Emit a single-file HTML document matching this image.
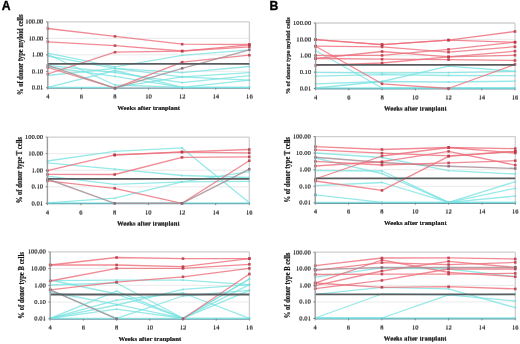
<!DOCTYPE html>
<html><head><meta charset="utf-8"><style>
html,body{margin:0;padding:0;background:#fff;width:520px;height:344px;overflow:hidden}
svg{display:block}
.t{font-family:"Liberation Serif",serif;font-size:6.6px;fill:#3a3a3a}
.tb{font-family:"Liberation Serif",serif;font-weight:bold;font-size:6.6px;fill:#111;stroke:#111;stroke-width:0.1px}
.tw{font-family:"Liberation Serif",serif;font-weight:bold;font-size:6.7px;fill:#333}
.tr{font-family:"Liberation Serif",serif;font-weight:bold;fill:#1a1a1a;stroke:#1a1a1a;stroke-width:0.18px}
.L{font-family:"Liberation Sans",sans-serif;font-weight:bold;font-size:12.2px;fill:#000;stroke:#000;stroke-width:0.35px}
</style></head><body>
<svg width="520" height="344" viewBox="0 0 520 344">
<defs><filter id="bl" x="0" y="0" width="100%" height="100%"><feGaussianBlur stdDeviation="0.35"/></filter><filter id="bt" x="0" y="0" width="100%" height="100%"><feGaussianBlur stdDeviation="0.4"/></filter></defs>
<rect width="520" height="344" fill="#fff"/>
<g filter="url(#bl)">
<text x="1.7" y="9.8" class="L">A</text>
<text x="269.4" y="9.9" class="L">B</text>
<line x1="47.8" y1="38.38" x2="249.4" y2="38.38" stroke="#e4e4e4" stroke-width="0.8"/>
<line x1="47.8" y1="54.85" x2="249.4" y2="54.85" stroke="#e4e4e4" stroke-width="0.8"/>
<line x1="47.8" y1="71.33" x2="249.4" y2="71.33" stroke="#e4e4e4" stroke-width="0.8"/>
<line x1="47.8" y1="21.9" x2="249.4" y2="21.9" stroke="#cfcfcf" stroke-width="1.3"/>
<line x1="249.4" y1="21.9" x2="249.4" y2="87.8" stroke="#cfcfcf" stroke-width="1.3"/>
<line x1="47.8" y1="88.1" x2="249.4" y2="88.1" stroke="#6f9aa6" stroke-width="1.4"/>
<polyline points="47.8,53.2 115.0,66.8 182.2,55.3 249.4,49.8" fill="none" stroke="#74e2e0" stroke-width="1.3" stroke-opacity="0.75" stroke-linejoin="round"/>
<rect x="46.90" y="52.30" width="1.8" height="1.8" fill="#70d8d8" opacity="0.6"/>
<rect x="114.10" y="65.90" width="1.8" height="1.8" fill="#70d8d8" opacity="0.6"/>
<rect x="181.30" y="54.40" width="1.8" height="1.8" fill="#70d8d8" opacity="0.6"/>
<rect x="248.50" y="48.90" width="1.8" height="1.8" fill="#70d8d8" opacity="0.6"/>
<polyline points="47.8,54.5 115.0,85.0 182.2,87.3 249.4,87.3" fill="none" stroke="#74e2e0" stroke-width="1.3" stroke-opacity="0.75" stroke-linejoin="round"/>
<rect x="46.90" y="53.60" width="1.8" height="1.8" fill="#70d8d8" opacity="0.6"/>
<rect x="114.10" y="84.10" width="1.8" height="1.8" fill="#70d8d8" opacity="0.6"/>
<rect x="181.30" y="86.40" width="1.8" height="1.8" fill="#70d8d8" opacity="0.6"/>
<rect x="248.50" y="86.40" width="1.8" height="1.8" fill="#70d8d8" opacity="0.6"/>
<polyline points="47.8,56.0 115.0,68.3 182.2,76.8 249.4,72.6" fill="none" stroke="#74e2e0" stroke-width="1.3" stroke-opacity="0.75" stroke-linejoin="round"/>
<rect x="46.90" y="55.10" width="1.8" height="1.8" fill="#70d8d8" opacity="0.6"/>
<rect x="114.10" y="67.40" width="1.8" height="1.8" fill="#70d8d8" opacity="0.6"/>
<rect x="181.30" y="75.90" width="1.8" height="1.8" fill="#70d8d8" opacity="0.6"/>
<rect x="248.50" y="71.70" width="1.8" height="1.8" fill="#70d8d8" opacity="0.6"/>
<polyline points="47.8,65.4 115.0,72.5 182.2,82.7 249.4,75.6" fill="none" stroke="#74e2e0" stroke-width="1.3" stroke-opacity="0.75" stroke-linejoin="round"/>
<rect x="46.90" y="64.50" width="1.8" height="1.8" fill="#70d8d8" opacity="0.6"/>
<rect x="114.10" y="71.60" width="1.8" height="1.8" fill="#70d8d8" opacity="0.6"/>
<rect x="181.30" y="81.80" width="1.8" height="1.8" fill="#70d8d8" opacity="0.6"/>
<rect x="248.50" y="74.70" width="1.8" height="1.8" fill="#70d8d8" opacity="0.6"/>
<polyline points="47.8,67.0 115.0,76.4 182.2,87.3 249.4,80.2" fill="none" stroke="#74e2e0" stroke-width="1.3" stroke-opacity="0.75" stroke-linejoin="round"/>
<rect x="46.90" y="66.10" width="1.8" height="1.8" fill="#70d8d8" opacity="0.6"/>
<rect x="114.10" y="75.50" width="1.8" height="1.8" fill="#70d8d8" opacity="0.6"/>
<rect x="181.30" y="86.40" width="1.8" height="1.8" fill="#70d8d8" opacity="0.6"/>
<rect x="248.50" y="79.30" width="1.8" height="1.8" fill="#70d8d8" opacity="0.6"/>
<polyline points="47.8,75.5 115.0,68.3 182.2,72.6 249.4,66.5" fill="none" stroke="#74e2e0" stroke-width="1.3" stroke-opacity="0.75" stroke-linejoin="round"/>
<rect x="46.90" y="74.60" width="1.8" height="1.8" fill="#70d8d8" opacity="0.6"/>
<rect x="114.10" y="67.40" width="1.8" height="1.8" fill="#70d8d8" opacity="0.6"/>
<rect x="181.30" y="71.70" width="1.8" height="1.8" fill="#70d8d8" opacity="0.6"/>
<rect x="248.50" y="65.60" width="1.8" height="1.8" fill="#70d8d8" opacity="0.6"/>
<polyline points="47.8,87.3 115.0,70.5 182.2,87.3 249.4,87.3" fill="none" stroke="#74e2e0" stroke-width="1.3" stroke-opacity="0.75" stroke-linejoin="round"/>
<rect x="46.90" y="86.40" width="1.8" height="1.8" fill="#70d8d8" opacity="0.6"/>
<rect x="114.10" y="69.60" width="1.8" height="1.8" fill="#70d8d8" opacity="0.6"/>
<rect x="181.30" y="86.40" width="1.8" height="1.8" fill="#70d8d8" opacity="0.6"/>
<rect x="248.50" y="86.40" width="1.8" height="1.8" fill="#70d8d8" opacity="0.6"/>
<polyline points="47.8,87.3 115.0,87.3 182.2,76.8 249.4,80.2" fill="none" stroke="#74e2e0" stroke-width="1.3" stroke-opacity="0.75" stroke-linejoin="round"/>
<rect x="46.90" y="86.40" width="1.8" height="1.8" fill="#70d8d8" opacity="0.6"/>
<rect x="114.10" y="86.40" width="1.8" height="1.8" fill="#70d8d8" opacity="0.6"/>
<rect x="181.30" y="75.90" width="1.8" height="1.8" fill="#70d8d8" opacity="0.6"/>
<rect x="248.50" y="79.30" width="1.8" height="1.8" fill="#70d8d8" opacity="0.6"/>
<polyline points="47.8,28.5 115.0,36.3 182.2,44.2 249.4,44.5" fill="none" stroke="#ec6e7a" stroke-width="1.3" stroke-opacity="0.8" stroke-linejoin="round"/>
<rect x="46.50" y="27.20" width="2.6" height="2.6" fill="#b8303e" opacity="0.8"/>
<rect x="113.70" y="35.00" width="2.6" height="2.6" fill="#b8303e" opacity="0.8"/>
<rect x="180.90" y="42.90" width="2.6" height="2.6" fill="#b8303e" opacity="0.8"/>
<rect x="248.10" y="43.20" width="2.6" height="2.6" fill="#b8303e" opacity="0.8"/>
<polyline points="47.8,41.8 115.0,45.6 182.2,51.0 249.4,46.8" fill="none" stroke="#ec6e7a" stroke-width="1.3" stroke-opacity="0.8" stroke-linejoin="round"/>
<rect x="46.50" y="40.50" width="2.6" height="2.6" fill="#b8303e" opacity="0.8"/>
<rect x="113.70" y="44.30" width="2.6" height="2.6" fill="#b8303e" opacity="0.8"/>
<rect x="180.90" y="49.70" width="2.6" height="2.6" fill="#b8303e" opacity="0.8"/>
<rect x="248.10" y="45.50" width="2.6" height="2.6" fill="#b8303e" opacity="0.8"/>
<polyline points="47.8,74.0 115.0,52.2 182.2,51.2 249.4,44.8" fill="none" stroke="#ec6e7a" stroke-width="1.3" stroke-opacity="0.8" stroke-linejoin="round"/>
<rect x="46.50" y="72.70" width="2.6" height="2.6" fill="#b8303e" opacity="0.8"/>
<rect x="113.70" y="50.90" width="2.6" height="2.6" fill="#b8303e" opacity="0.8"/>
<rect x="180.90" y="49.90" width="2.6" height="2.6" fill="#b8303e" opacity="0.8"/>
<rect x="248.10" y="43.50" width="2.6" height="2.6" fill="#b8303e" opacity="0.8"/>
<polyline points="47.8,67.5 115.0,88.2 182.2,62.2 249.4,55.2" fill="none" stroke="#ec6e7a" stroke-width="1.3" stroke-opacity="0.8" stroke-linejoin="round"/>
<rect x="46.50" y="66.20" width="2.6" height="2.6" fill="#b8303e" opacity="0.8"/>
<rect x="113.70" y="86.90" width="2.6" height="2.6" fill="#b8303e" opacity="0.8"/>
<rect x="180.90" y="60.90" width="2.6" height="2.6" fill="#b8303e" opacity="0.8"/>
<rect x="248.10" y="53.90" width="2.6" height="2.6" fill="#b8303e" opacity="0.8"/>
<polyline points="47.8,65.4 115.0,88.2 182.2,68.3 249.4,49.8" fill="none" stroke="#a89098" stroke-width="1.4" stroke-opacity="0.85" stroke-linejoin="round"/>
<rect x="46.50" y="64.10" width="2.6" height="2.6" fill="#806070" opacity="0.8"/>
<rect x="113.70" y="86.90" width="2.6" height="2.6" fill="#806070" opacity="0.8"/>
<rect x="180.90" y="67.00" width="2.6" height="2.6" fill="#806070" opacity="0.8"/>
<rect x="248.10" y="48.50" width="2.6" height="2.6" fill="#806070" opacity="0.8"/>
<line x1="47.8" y1="63.8" x2="249.4" y2="63.8" stroke="#585c5e" stroke-width="1.8"/>
<line x1="47.8" y1="21.9" x2="47.8" y2="87.8" stroke="#999d9d" stroke-width="1.4"/>
<line x1="46.0" y1="21.90" x2="47.8" y2="21.90" stroke="#808080" stroke-width="1"/>
<line x1="46.0" y1="38.38" x2="47.8" y2="38.38" stroke="#808080" stroke-width="1"/>
<line x1="46.0" y1="54.85" x2="47.8" y2="54.85" stroke="#808080" stroke-width="1"/>
<line x1="46.0" y1="71.33" x2="47.8" y2="71.33" stroke="#808080" stroke-width="1"/>
<line x1="46.0" y1="87.80" x2="47.8" y2="87.80" stroke="#808080" stroke-width="1"/>
<line x1="47.8" y1="87.8" x2="47.8" y2="89.6" stroke="#808080" stroke-width="1"/>
<line x1="81.4" y1="87.8" x2="81.4" y2="89.6" stroke="#808080" stroke-width="1"/>
<line x1="115.0" y1="87.8" x2="115.0" y2="89.6" stroke="#808080" stroke-width="1"/>
<line x1="148.6" y1="87.8" x2="148.6" y2="89.6" stroke="#808080" stroke-width="1"/>
<line x1="182.2" y1="87.8" x2="182.2" y2="89.6" stroke="#808080" stroke-width="1"/>
<line x1="215.8" y1="87.8" x2="215.8" y2="89.6" stroke="#808080" stroke-width="1"/>
<line x1="249.4" y1="87.8" x2="249.4" y2="89.6" stroke="#808080" stroke-width="1"/>
<line x1="47.4" y1="153.65" x2="249.3" y2="153.65" stroke="#e4e4e4" stroke-width="0.8"/>
<line x1="47.4" y1="170.20" x2="249.3" y2="170.20" stroke="#e4e4e4" stroke-width="0.8"/>
<line x1="47.4" y1="186.75" x2="249.3" y2="186.75" stroke="#e4e4e4" stroke-width="0.8"/>
<line x1="47.4" y1="137.1" x2="249.3" y2="137.1" stroke="#cfcfcf" stroke-width="1.3"/>
<line x1="249.3" y1="137.1" x2="249.3" y2="203.3" stroke="#cfcfcf" stroke-width="1.3"/>
<line x1="47.4" y1="203.60000000000002" x2="249.3" y2="203.60000000000002" stroke="#6f9aa6" stroke-width="1.4"/>
<polyline points="47.4,161.0 114.7,151.4 182.0,147.9 249.3,202.8" fill="none" stroke="#74e2e0" stroke-width="1.3" stroke-opacity="0.75" stroke-linejoin="round"/>
<rect x="46.50" y="160.10" width="1.8" height="1.8" fill="#70d8d8" opacity="0.6"/>
<rect x="113.80" y="150.50" width="1.8" height="1.8" fill="#70d8d8" opacity="0.6"/>
<rect x="181.10" y="147.00" width="1.8" height="1.8" fill="#70d8d8" opacity="0.6"/>
<rect x="248.40" y="201.90" width="1.8" height="1.8" fill="#70d8d8" opacity="0.6"/>
<polyline points="47.4,162.8 114.7,169.2 182.0,175.5 249.3,177.5" fill="none" stroke="#74e2e0" stroke-width="1.3" stroke-opacity="0.75" stroke-linejoin="round"/>
<rect x="46.50" y="161.90" width="1.8" height="1.8" fill="#70d8d8" opacity="0.6"/>
<rect x="113.80" y="168.30" width="1.8" height="1.8" fill="#70d8d8" opacity="0.6"/>
<rect x="181.10" y="174.60" width="1.8" height="1.8" fill="#70d8d8" opacity="0.6"/>
<rect x="248.40" y="176.60" width="1.8" height="1.8" fill="#70d8d8" opacity="0.6"/>
<polyline points="47.4,176.2 114.7,184.4 182.0,181.8 249.3,181.4" fill="none" stroke="#74e2e0" stroke-width="1.3" stroke-opacity="0.75" stroke-linejoin="round"/>
<rect x="46.50" y="175.30" width="1.8" height="1.8" fill="#70d8d8" opacity="0.6"/>
<rect x="113.80" y="183.50" width="1.8" height="1.8" fill="#70d8d8" opacity="0.6"/>
<rect x="181.10" y="180.90" width="1.8" height="1.8" fill="#70d8d8" opacity="0.6"/>
<rect x="248.40" y="180.50" width="1.8" height="1.8" fill="#70d8d8" opacity="0.6"/>
<polyline points="47.4,202.8 114.7,198.2 182.0,181.8 249.3,171.6" fill="none" stroke="#74e2e0" stroke-width="1.3" stroke-opacity="0.75" stroke-linejoin="round"/>
<rect x="46.50" y="201.90" width="1.8" height="1.8" fill="#70d8d8" opacity="0.6"/>
<rect x="113.80" y="197.30" width="1.8" height="1.8" fill="#70d8d8" opacity="0.6"/>
<rect x="181.10" y="180.90" width="1.8" height="1.8" fill="#70d8d8" opacity="0.6"/>
<rect x="248.40" y="170.70" width="1.8" height="1.8" fill="#70d8d8" opacity="0.6"/>
<polyline points="47.4,202.8 114.7,202.8 182.0,202.8 249.3,202.8" fill="none" stroke="#74e2e0" stroke-width="1.3" stroke-opacity="0.75" stroke-linejoin="round"/>
<rect x="46.50" y="201.90" width="1.8" height="1.8" fill="#70d8d8" opacity="0.6"/>
<rect x="113.80" y="201.90" width="1.8" height="1.8" fill="#70d8d8" opacity="0.6"/>
<rect x="181.10" y="201.90" width="1.8" height="1.8" fill="#70d8d8" opacity="0.6"/>
<rect x="248.40" y="201.90" width="1.8" height="1.8" fill="#70d8d8" opacity="0.6"/>
<polyline points="47.4,170.7 114.7,154.8 182.0,151.8 249.3,149.5" fill="none" stroke="#ec6e7a" stroke-width="1.3" stroke-opacity="0.8" stroke-linejoin="round"/>
<rect x="46.10" y="169.40" width="2.6" height="2.6" fill="#b8303e" opacity="0.8"/>
<rect x="113.40" y="153.50" width="2.6" height="2.6" fill="#b8303e" opacity="0.8"/>
<rect x="180.70" y="150.50" width="2.6" height="2.6" fill="#b8303e" opacity="0.8"/>
<rect x="248.00" y="148.20" width="2.6" height="2.6" fill="#b8303e" opacity="0.8"/>
<polyline points="47.4,174.4 114.7,174.5 182.0,157.4 249.3,156.8" fill="none" stroke="#ec6e7a" stroke-width="1.3" stroke-opacity="0.8" stroke-linejoin="round"/>
<rect x="46.10" y="173.10" width="2.6" height="2.6" fill="#b8303e" opacity="0.8"/>
<rect x="113.40" y="173.20" width="2.6" height="2.6" fill="#b8303e" opacity="0.8"/>
<rect x="180.70" y="156.10" width="2.6" height="2.6" fill="#b8303e" opacity="0.8"/>
<rect x="248.00" y="155.50" width="2.6" height="2.6" fill="#b8303e" opacity="0.8"/>
<polyline points="47.4,180.8 114.7,188.3 182.0,203.3 249.3,160.7" fill="none" stroke="#ec6e7a" stroke-width="1.3" stroke-opacity="0.8" stroke-linejoin="round"/>
<rect x="46.10" y="179.50" width="2.6" height="2.6" fill="#b8303e" opacity="0.8"/>
<rect x="113.40" y="187.00" width="2.6" height="2.6" fill="#b8303e" opacity="0.8"/>
<rect x="180.70" y="202.00" width="2.6" height="2.6" fill="#b8303e" opacity="0.8"/>
<rect x="248.00" y="159.40" width="2.6" height="2.6" fill="#b8303e" opacity="0.8"/>
<polyline points="114.7,155.2 182.0,152.2 249.3,152.8" fill="none" stroke="#ec6e7a" stroke-width="1.3" stroke-opacity="0.8" stroke-linejoin="round"/>
<rect x="113.40" y="153.90" width="2.6" height="2.6" fill="#b8303e" opacity="0.8"/>
<rect x="180.70" y="150.90" width="2.6" height="2.6" fill="#b8303e" opacity="0.8"/>
<rect x="248.00" y="151.50" width="2.6" height="2.6" fill="#b8303e" opacity="0.8"/>
<polyline points="47.4,179.0 114.7,203.3 182.0,203.3 249.3,169.2" fill="none" stroke="#a89098" stroke-width="1.4" stroke-opacity="0.85" stroke-linejoin="round"/>
<rect x="46.10" y="177.70" width="2.6" height="2.6" fill="#806070" opacity="0.8"/>
<rect x="113.40" y="202.00" width="2.6" height="2.6" fill="#806070" opacity="0.8"/>
<rect x="180.70" y="202.00" width="2.6" height="2.6" fill="#806070" opacity="0.8"/>
<rect x="248.00" y="167.90" width="2.6" height="2.6" fill="#806070" opacity="0.8"/>
<line x1="47.4" y1="178.8" x2="249.3" y2="178.8" stroke="#585c5e" stroke-width="1.8"/>
<line x1="47.4" y1="137.1" x2="47.4" y2="203.3" stroke="#999d9d" stroke-width="1.4"/>
<line x1="45.6" y1="137.10" x2="47.4" y2="137.10" stroke="#808080" stroke-width="1"/>
<line x1="45.6" y1="153.65" x2="47.4" y2="153.65" stroke="#808080" stroke-width="1"/>
<line x1="45.6" y1="170.20" x2="47.4" y2="170.20" stroke="#808080" stroke-width="1"/>
<line x1="45.6" y1="186.75" x2="47.4" y2="186.75" stroke="#808080" stroke-width="1"/>
<line x1="45.6" y1="203.30" x2="47.4" y2="203.30" stroke="#808080" stroke-width="1"/>
<line x1="47.4" y1="203.3" x2="47.4" y2="205.10000000000002" stroke="#808080" stroke-width="1"/>
<line x1="81.0" y1="203.3" x2="81.0" y2="205.10000000000002" stroke="#808080" stroke-width="1"/>
<line x1="114.7" y1="203.3" x2="114.7" y2="205.10000000000002" stroke="#808080" stroke-width="1"/>
<line x1="148.3" y1="203.3" x2="148.3" y2="205.10000000000002" stroke="#808080" stroke-width="1"/>
<line x1="182.0" y1="203.3" x2="182.0" y2="205.10000000000002" stroke="#808080" stroke-width="1"/>
<line x1="215.7" y1="203.3" x2="215.7" y2="205.10000000000002" stroke="#808080" stroke-width="1"/>
<line x1="249.3" y1="203.3" x2="249.3" y2="205.10000000000002" stroke="#808080" stroke-width="1"/>
<line x1="50.2" y1="268.62" x2="249.4" y2="268.62" stroke="#e4e4e4" stroke-width="0.8"/>
<line x1="50.2" y1="285.35" x2="249.4" y2="285.35" stroke="#e4e4e4" stroke-width="0.8"/>
<line x1="50.2" y1="302.07" x2="249.4" y2="302.07" stroke="#e4e4e4" stroke-width="0.8"/>
<line x1="50.2" y1="251.9" x2="249.4" y2="251.9" stroke="#cfcfcf" stroke-width="1.3"/>
<line x1="249.4" y1="251.9" x2="249.4" y2="318.8" stroke="#cfcfcf" stroke-width="1.3"/>
<line x1="50.2" y1="319.1" x2="249.4" y2="319.1" stroke="#6f9aa6" stroke-width="1.4"/>
<polyline points="50.2,280.6 116.6,280.2 183.0,280.2 249.4,284.7" fill="none" stroke="#74e2e0" stroke-width="1.3" stroke-opacity="0.75" stroke-linejoin="round"/>
<rect x="49.30" y="279.70" width="1.8" height="1.8" fill="#70d8d8" opacity="0.6"/>
<rect x="115.70" y="279.30" width="1.8" height="1.8" fill="#70d8d8" opacity="0.6"/>
<rect x="182.10" y="279.30" width="1.8" height="1.8" fill="#70d8d8" opacity="0.6"/>
<rect x="248.50" y="283.80" width="1.8" height="1.8" fill="#70d8d8" opacity="0.6"/>
<polyline points="50.2,285.0 116.6,283.0 183.0,318.3 249.4,279.0" fill="none" stroke="#74e2e0" stroke-width="1.3" stroke-opacity="0.75" stroke-linejoin="round"/>
<rect x="49.30" y="284.10" width="1.8" height="1.8" fill="#70d8d8" opacity="0.6"/>
<rect x="115.70" y="282.10" width="1.8" height="1.8" fill="#70d8d8" opacity="0.6"/>
<rect x="182.10" y="317.40" width="1.8" height="1.8" fill="#70d8d8" opacity="0.6"/>
<rect x="248.50" y="278.10" width="1.8" height="1.8" fill="#70d8d8" opacity="0.6"/>
<polyline points="50.2,292.0 116.6,304.4 183.0,318.3 249.4,290.4" fill="none" stroke="#74e2e0" stroke-width="1.3" stroke-opacity="0.75" stroke-linejoin="round"/>
<rect x="49.30" y="291.10" width="1.8" height="1.8" fill="#70d8d8" opacity="0.6"/>
<rect x="115.70" y="303.50" width="1.8" height="1.8" fill="#70d8d8" opacity="0.6"/>
<rect x="182.10" y="317.40" width="1.8" height="1.8" fill="#70d8d8" opacity="0.6"/>
<rect x="248.50" y="289.50" width="1.8" height="1.8" fill="#70d8d8" opacity="0.6"/>
<polyline points="50.2,318.3 116.6,291.2 183.0,318.3 249.4,318.3" fill="none" stroke="#74e2e0" stroke-width="1.3" stroke-opacity="0.75" stroke-linejoin="round"/>
<rect x="49.30" y="317.40" width="1.8" height="1.8" fill="#70d8d8" opacity="0.6"/>
<rect x="115.70" y="290.30" width="1.8" height="1.8" fill="#70d8d8" opacity="0.6"/>
<rect x="182.10" y="317.40" width="1.8" height="1.8" fill="#70d8d8" opacity="0.6"/>
<rect x="248.50" y="317.40" width="1.8" height="1.8" fill="#70d8d8" opacity="0.6"/>
<polyline points="50.2,318.3 116.6,300.2 183.0,293.0 249.4,318.3" fill="none" stroke="#74e2e0" stroke-width="1.3" stroke-opacity="0.75" stroke-linejoin="round"/>
<rect x="49.30" y="317.40" width="1.8" height="1.8" fill="#70d8d8" opacity="0.6"/>
<rect x="115.70" y="299.30" width="1.8" height="1.8" fill="#70d8d8" opacity="0.6"/>
<rect x="182.10" y="292.10" width="1.8" height="1.8" fill="#70d8d8" opacity="0.6"/>
<rect x="248.50" y="317.40" width="1.8" height="1.8" fill="#70d8d8" opacity="0.6"/>
<polyline points="50.2,318.3 116.6,305.0 183.0,289.4 249.4,284.7" fill="none" stroke="#74e2e0" stroke-width="1.3" stroke-opacity="0.75" stroke-linejoin="round"/>
<rect x="49.30" y="317.40" width="1.8" height="1.8" fill="#70d8d8" opacity="0.6"/>
<rect x="115.70" y="304.10" width="1.8" height="1.8" fill="#70d8d8" opacity="0.6"/>
<rect x="182.10" y="288.50" width="1.8" height="1.8" fill="#70d8d8" opacity="0.6"/>
<rect x="248.50" y="283.80" width="1.8" height="1.8" fill="#70d8d8" opacity="0.6"/>
<polyline points="50.2,318.3 116.6,309.2 183.0,318.3 249.4,279.0" fill="none" stroke="#74e2e0" stroke-width="1.3" stroke-opacity="0.75" stroke-linejoin="round"/>
<rect x="49.30" y="317.40" width="1.8" height="1.8" fill="#70d8d8" opacity="0.6"/>
<rect x="115.70" y="308.30" width="1.8" height="1.8" fill="#70d8d8" opacity="0.6"/>
<rect x="182.10" y="317.40" width="1.8" height="1.8" fill="#70d8d8" opacity="0.6"/>
<rect x="248.50" y="278.10" width="1.8" height="1.8" fill="#70d8d8" opacity="0.6"/>
<polyline points="50.2,318.3 116.6,318.3 183.0,318.3 249.4,318.3" fill="none" stroke="#74e2e0" stroke-width="1.3" stroke-opacity="0.75" stroke-linejoin="round"/>
<rect x="49.30" y="317.40" width="1.8" height="1.8" fill="#70d8d8" opacity="0.6"/>
<rect x="115.70" y="317.40" width="1.8" height="1.8" fill="#70d8d8" opacity="0.6"/>
<rect x="182.10" y="317.40" width="1.8" height="1.8" fill="#70d8d8" opacity="0.6"/>
<rect x="248.50" y="317.40" width="1.8" height="1.8" fill="#70d8d8" opacity="0.6"/>
<polyline points="50.2,280.0 116.6,294.0 183.0,318.3 249.4,284.7" fill="none" stroke="#74e2e0" stroke-width="1.3" stroke-opacity="0.75" stroke-linejoin="round"/>
<rect x="49.30" y="279.10" width="1.8" height="1.8" fill="#70d8d8" opacity="0.6"/>
<rect x="115.70" y="293.10" width="1.8" height="1.8" fill="#70d8d8" opacity="0.6"/>
<rect x="182.10" y="317.40" width="1.8" height="1.8" fill="#70d8d8" opacity="0.6"/>
<rect x="248.50" y="283.80" width="1.8" height="1.8" fill="#70d8d8" opacity="0.6"/>
<polyline points="50.2,290.0 116.6,318.3 183.0,296.0 249.4,290.4" fill="none" stroke="#74e2e0" stroke-width="1.3" stroke-opacity="0.75" stroke-linejoin="round"/>
<rect x="49.30" y="289.10" width="1.8" height="1.8" fill="#70d8d8" opacity="0.6"/>
<rect x="115.70" y="317.40" width="1.8" height="1.8" fill="#70d8d8" opacity="0.6"/>
<rect x="182.10" y="295.10" width="1.8" height="1.8" fill="#70d8d8" opacity="0.6"/>
<rect x="248.50" y="289.50" width="1.8" height="1.8" fill="#70d8d8" opacity="0.6"/>
<polyline points="50.2,265.0 116.6,257.5 183.0,258.6 249.4,258.6" fill="none" stroke="#ec6e7a" stroke-width="1.3" stroke-opacity="0.8" stroke-linejoin="round"/>
<rect x="48.90" y="263.70" width="2.6" height="2.6" fill="#b8303e" opacity="0.8"/>
<rect x="115.30" y="256.20" width="2.6" height="2.6" fill="#b8303e" opacity="0.8"/>
<rect x="181.70" y="257.30" width="2.6" height="2.6" fill="#b8303e" opacity="0.8"/>
<rect x="248.10" y="257.30" width="2.6" height="2.6" fill="#b8303e" opacity="0.8"/>
<polyline points="50.2,265.0 116.6,265.0 183.0,266.6 249.4,258.6" fill="none" stroke="#ec6e7a" stroke-width="1.3" stroke-opacity="0.8" stroke-linejoin="round"/>
<rect x="48.90" y="263.70" width="2.6" height="2.6" fill="#b8303e" opacity="0.8"/>
<rect x="115.30" y="263.70" width="2.6" height="2.6" fill="#b8303e" opacity="0.8"/>
<rect x="181.70" y="265.30" width="2.6" height="2.6" fill="#b8303e" opacity="0.8"/>
<rect x="248.10" y="257.30" width="2.6" height="2.6" fill="#b8303e" opacity="0.8"/>
<polyline points="50.2,281.0 116.6,268.4 183.0,268.4 249.4,264.3" fill="none" stroke="#ec6e7a" stroke-width="1.3" stroke-opacity="0.8" stroke-linejoin="round"/>
<rect x="48.90" y="279.70" width="2.6" height="2.6" fill="#b8303e" opacity="0.8"/>
<rect x="115.30" y="267.10" width="2.6" height="2.6" fill="#b8303e" opacity="0.8"/>
<rect x="181.70" y="267.10" width="2.6" height="2.6" fill="#b8303e" opacity="0.8"/>
<rect x="248.10" y="263.00" width="2.6" height="2.6" fill="#b8303e" opacity="0.8"/>
<polyline points="50.2,289.8 116.6,282.2 183.0,276.8 249.4,268.4" fill="none" stroke="#ec6e7a" stroke-width="1.3" stroke-opacity="0.8" stroke-linejoin="round"/>
<rect x="48.90" y="288.50" width="2.6" height="2.6" fill="#b8303e" opacity="0.8"/>
<rect x="115.30" y="280.90" width="2.6" height="2.6" fill="#b8303e" opacity="0.8"/>
<rect x="181.70" y="275.50" width="2.6" height="2.6" fill="#b8303e" opacity="0.8"/>
<rect x="248.10" y="267.10" width="2.6" height="2.6" fill="#b8303e" opacity="0.8"/>
<polyline points="50.2,289.8 116.6,318.8" fill="none" stroke="#a89098" stroke-width="1.4" stroke-opacity="0.85" stroke-linejoin="round"/>
<rect x="48.90" y="288.50" width="2.6" height="2.6" fill="#806070" opacity="0.8"/>
<rect x="115.30" y="317.50" width="2.6" height="2.6" fill="#806070" opacity="0.8"/>
<polyline points="183.0,318.8 249.4,274.0" fill="none" stroke="#ec6e7a" stroke-width="1.3" stroke-opacity="0.8" stroke-linejoin="round"/>
<rect x="181.70" y="317.50" width="2.6" height="2.6" fill="#b8303e" opacity="0.8"/>
<rect x="248.10" y="272.70" width="2.6" height="2.6" fill="#b8303e" opacity="0.8"/>
<line x1="50.2" y1="294.5" x2="249.4" y2="294.5" stroke="#585c5e" stroke-width="1.8"/>
<line x1="50.2" y1="251.9" x2="50.2" y2="318.8" stroke="#999d9d" stroke-width="1.4"/>
<line x1="48.400000000000006" y1="251.90" x2="50.2" y2="251.90" stroke="#808080" stroke-width="1"/>
<line x1="48.400000000000006" y1="268.62" x2="50.2" y2="268.62" stroke="#808080" stroke-width="1"/>
<line x1="48.400000000000006" y1="285.35" x2="50.2" y2="285.35" stroke="#808080" stroke-width="1"/>
<line x1="48.400000000000006" y1="302.07" x2="50.2" y2="302.07" stroke="#808080" stroke-width="1"/>
<line x1="48.400000000000006" y1="318.80" x2="50.2" y2="318.80" stroke="#808080" stroke-width="1"/>
<line x1="50.2" y1="318.8" x2="50.2" y2="320.6" stroke="#808080" stroke-width="1"/>
<line x1="83.4" y1="318.8" x2="83.4" y2="320.6" stroke="#808080" stroke-width="1"/>
<line x1="116.6" y1="318.8" x2="116.6" y2="320.6" stroke="#808080" stroke-width="1"/>
<line x1="149.8" y1="318.8" x2="149.8" y2="320.6" stroke="#808080" stroke-width="1"/>
<line x1="183.0" y1="318.8" x2="183.0" y2="320.6" stroke="#808080" stroke-width="1"/>
<line x1="216.2" y1="318.8" x2="216.2" y2="320.6" stroke="#808080" stroke-width="1"/>
<line x1="249.4" y1="318.8" x2="249.4" y2="320.6" stroke="#808080" stroke-width="1"/>
<line x1="315.6" y1="39.38" x2="515.0" y2="39.38" stroke="#e4e4e4" stroke-width="0.8"/>
<line x1="315.6" y1="55.75" x2="515.0" y2="55.75" stroke="#e4e4e4" stroke-width="0.8"/>
<line x1="315.6" y1="72.12" x2="515.0" y2="72.12" stroke="#e4e4e4" stroke-width="0.8"/>
<line x1="315.6" y1="23.0" x2="515.0" y2="23.0" stroke="#cfcfcf" stroke-width="1.3"/>
<line x1="515.0" y1="23.0" x2="515.0" y2="88.5" stroke="#cfcfcf" stroke-width="1.3"/>
<line x1="315.6" y1="88.8" x2="515.0" y2="88.8" stroke="#6f9aa6" stroke-width="1.4"/>
<polyline points="315.6,50.8 382.1,88.0 448.5,88.0 515.0,88.0" fill="none" stroke="#74e2e0" stroke-width="1.3" stroke-opacity="0.75" stroke-linejoin="round"/>
<rect x="314.70" y="49.90" width="1.8" height="1.8" fill="#70d8d8" opacity="0.6"/>
<rect x="381.17" y="87.10" width="1.8" height="1.8" fill="#70d8d8" opacity="0.6"/>
<rect x="447.63" y="87.10" width="1.8" height="1.8" fill="#70d8d8" opacity="0.6"/>
<rect x="514.10" y="87.10" width="1.8" height="1.8" fill="#70d8d8" opacity="0.6"/>
<polyline points="315.6,72.3 382.1,73.0 448.5,72.7 515.0,71.3" fill="none" stroke="#74e2e0" stroke-width="1.3" stroke-opacity="0.75" stroke-linejoin="round"/>
<rect x="314.70" y="71.40" width="1.8" height="1.8" fill="#70d8d8" opacity="0.6"/>
<rect x="381.17" y="72.10" width="1.8" height="1.8" fill="#70d8d8" opacity="0.6"/>
<rect x="447.63" y="71.80" width="1.8" height="1.8" fill="#70d8d8" opacity="0.6"/>
<rect x="514.10" y="70.40" width="1.8" height="1.8" fill="#70d8d8" opacity="0.6"/>
<polyline points="315.6,76.2 382.1,74.6 448.5,75.5 515.0,75.7" fill="none" stroke="#74e2e0" stroke-width="1.3" stroke-opacity="0.75" stroke-linejoin="round"/>
<rect x="314.70" y="75.30" width="1.8" height="1.8" fill="#70d8d8" opacity="0.6"/>
<rect x="381.17" y="73.70" width="1.8" height="1.8" fill="#70d8d8" opacity="0.6"/>
<rect x="447.63" y="74.60" width="1.8" height="1.8" fill="#70d8d8" opacity="0.6"/>
<rect x="514.10" y="74.80" width="1.8" height="1.8" fill="#70d8d8" opacity="0.6"/>
<polyline points="315.6,83.8 382.1,81.5 448.5,82.0 515.0,81.2" fill="none" stroke="#74e2e0" stroke-width="1.3" stroke-opacity="0.75" stroke-linejoin="round"/>
<rect x="314.70" y="82.90" width="1.8" height="1.8" fill="#70d8d8" opacity="0.6"/>
<rect x="381.17" y="80.60" width="1.8" height="1.8" fill="#70d8d8" opacity="0.6"/>
<rect x="447.63" y="81.10" width="1.8" height="1.8" fill="#70d8d8" opacity="0.6"/>
<rect x="514.10" y="80.30" width="1.8" height="1.8" fill="#70d8d8" opacity="0.6"/>
<polyline points="315.6,88.0 382.1,81.5 448.5,66.2 515.0,71.3" fill="none" stroke="#74e2e0" stroke-width="1.3" stroke-opacity="0.75" stroke-linejoin="round"/>
<rect x="314.70" y="87.10" width="1.8" height="1.8" fill="#70d8d8" opacity="0.6"/>
<rect x="381.17" y="80.60" width="1.8" height="1.8" fill="#70d8d8" opacity="0.6"/>
<rect x="447.63" y="65.30" width="1.8" height="1.8" fill="#70d8d8" opacity="0.6"/>
<rect x="514.10" y="70.40" width="1.8" height="1.8" fill="#70d8d8" opacity="0.6"/>
<polyline points="315.6,88.0 382.1,88.0 448.5,88.0 515.0,88.0" fill="none" stroke="#74e2e0" stroke-width="1.3" stroke-opacity="0.75" stroke-linejoin="round"/>
<rect x="314.70" y="87.10" width="1.8" height="1.8" fill="#70d8d8" opacity="0.6"/>
<rect x="381.17" y="87.10" width="1.8" height="1.8" fill="#70d8d8" opacity="0.6"/>
<rect x="447.63" y="87.10" width="1.8" height="1.8" fill="#70d8d8" opacity="0.6"/>
<rect x="514.10" y="87.10" width="1.8" height="1.8" fill="#70d8d8" opacity="0.6"/>
<polyline points="315.6,39.6 382.1,44.6 448.5,40.1 515.0,31.5" fill="none" stroke="#ec6e7a" stroke-width="1.3" stroke-opacity="0.8" stroke-linejoin="round"/>
<rect x="314.30" y="38.30" width="2.6" height="2.6" fill="#b8303e" opacity="0.8"/>
<rect x="380.77" y="43.30" width="2.6" height="2.6" fill="#b8303e" opacity="0.8"/>
<rect x="447.23" y="38.80" width="2.6" height="2.6" fill="#b8303e" opacity="0.8"/>
<rect x="513.70" y="30.20" width="2.6" height="2.6" fill="#b8303e" opacity="0.8"/>
<polyline points="315.6,39.6 382.1,44.6 448.5,40.1 515.0,42.3" fill="none" stroke="#ec6e7a" stroke-width="1.3" stroke-opacity="0.8" stroke-linejoin="round"/>
<rect x="314.30" y="38.30" width="2.6" height="2.6" fill="#b8303e" opacity="0.8"/>
<rect x="380.77" y="43.30" width="2.6" height="2.6" fill="#b8303e" opacity="0.8"/>
<rect x="447.23" y="38.80" width="2.6" height="2.6" fill="#b8303e" opacity="0.8"/>
<rect x="513.70" y="41.00" width="2.6" height="2.6" fill="#b8303e" opacity="0.8"/>
<polyline points="315.6,46.2 382.1,46.9 448.5,52.2 515.0,46.7" fill="none" stroke="#ec6e7a" stroke-width="1.3" stroke-opacity="0.8" stroke-linejoin="round"/>
<rect x="314.30" y="44.90" width="2.6" height="2.6" fill="#b8303e" opacity="0.8"/>
<rect x="380.77" y="45.60" width="2.6" height="2.6" fill="#b8303e" opacity="0.8"/>
<rect x="447.23" y="50.90" width="2.6" height="2.6" fill="#b8303e" opacity="0.8"/>
<rect x="513.70" y="45.40" width="2.6" height="2.6" fill="#b8303e" opacity="0.8"/>
<polyline points="315.6,46.2 382.1,83.8 448.5,88.5 515.0,64.4" fill="none" stroke="#ec6e7a" stroke-width="1.3" stroke-opacity="0.8" stroke-linejoin="round"/>
<rect x="314.30" y="44.90" width="2.6" height="2.6" fill="#b8303e" opacity="0.8"/>
<rect x="380.77" y="82.50" width="2.6" height="2.6" fill="#b8303e" opacity="0.8"/>
<rect x="447.23" y="87.20" width="2.6" height="2.6" fill="#b8303e" opacity="0.8"/>
<rect x="513.70" y="63.10" width="2.6" height="2.6" fill="#b8303e" opacity="0.8"/>
<polyline points="315.6,55.4 382.1,55.4 448.5,49.4 515.0,42.1" fill="none" stroke="#ec6e7a" stroke-width="1.3" stroke-opacity="0.8" stroke-linejoin="round"/>
<rect x="314.30" y="54.10" width="2.6" height="2.6" fill="#b8303e" opacity="0.8"/>
<rect x="380.77" y="54.10" width="2.6" height="2.6" fill="#b8303e" opacity="0.8"/>
<rect x="447.23" y="48.10" width="2.6" height="2.6" fill="#b8303e" opacity="0.8"/>
<rect x="513.70" y="40.80" width="2.6" height="2.6" fill="#b8303e" opacity="0.8"/>
<polyline points="315.6,58.5 382.1,51.5 448.5,56.9 515.0,51.2" fill="none" stroke="#ec6e7a" stroke-width="1.3" stroke-opacity="0.8" stroke-linejoin="round"/>
<rect x="314.30" y="57.20" width="2.6" height="2.6" fill="#b8303e" opacity="0.8"/>
<rect x="380.77" y="50.20" width="2.6" height="2.6" fill="#b8303e" opacity="0.8"/>
<rect x="447.23" y="55.60" width="2.6" height="2.6" fill="#b8303e" opacity="0.8"/>
<rect x="513.70" y="49.90" width="2.6" height="2.6" fill="#b8303e" opacity="0.8"/>
<polyline points="315.6,58.5 382.1,59.2 448.5,59.7 515.0,60.5" fill="none" stroke="#ec6e7a" stroke-width="1.3" stroke-opacity="0.8" stroke-linejoin="round"/>
<rect x="314.30" y="57.20" width="2.6" height="2.6" fill="#b8303e" opacity="0.8"/>
<rect x="380.77" y="57.90" width="2.6" height="2.6" fill="#b8303e" opacity="0.8"/>
<rect x="447.23" y="58.40" width="2.6" height="2.6" fill="#b8303e" opacity="0.8"/>
<rect x="513.70" y="59.20" width="2.6" height="2.6" fill="#b8303e" opacity="0.8"/>
<polyline points="315.6,65.4 382.1,63.0 448.5,56.9 515.0,55.2" fill="none" stroke="#ec6e7a" stroke-width="1.3" stroke-opacity="0.8" stroke-linejoin="round"/>
<rect x="314.30" y="64.10" width="2.6" height="2.6" fill="#b8303e" opacity="0.8"/>
<rect x="380.77" y="61.70" width="2.6" height="2.6" fill="#b8303e" opacity="0.8"/>
<rect x="447.23" y="55.60" width="2.6" height="2.6" fill="#b8303e" opacity="0.8"/>
<rect x="513.70" y="53.90" width="2.6" height="2.6" fill="#b8303e" opacity="0.8"/>
<line x1="315.6" y1="64.8" x2="515.0" y2="64.8" stroke="#585c5e" stroke-width="1.8"/>
<line x1="315.6" y1="23.0" x2="315.6" y2="88.5" stroke="#999d9d" stroke-width="1.4"/>
<line x1="313.8" y1="23.00" x2="315.6" y2="23.00" stroke="#808080" stroke-width="1"/>
<line x1="313.8" y1="39.38" x2="315.6" y2="39.38" stroke="#808080" stroke-width="1"/>
<line x1="313.8" y1="55.75" x2="315.6" y2="55.75" stroke="#808080" stroke-width="1"/>
<line x1="313.8" y1="72.12" x2="315.6" y2="72.12" stroke="#808080" stroke-width="1"/>
<line x1="313.8" y1="88.50" x2="315.6" y2="88.50" stroke="#808080" stroke-width="1"/>
<line x1="315.6" y1="88.5" x2="315.6" y2="90.3" stroke="#808080" stroke-width="1"/>
<line x1="348.8" y1="88.5" x2="348.8" y2="90.3" stroke="#808080" stroke-width="1"/>
<line x1="382.1" y1="88.5" x2="382.1" y2="90.3" stroke="#808080" stroke-width="1"/>
<line x1="415.3" y1="88.5" x2="415.3" y2="90.3" stroke="#808080" stroke-width="1"/>
<line x1="448.5" y1="88.5" x2="448.5" y2="90.3" stroke="#808080" stroke-width="1"/>
<line x1="481.8" y1="88.5" x2="481.8" y2="90.3" stroke="#808080" stroke-width="1"/>
<line x1="515.0" y1="88.5" x2="515.0" y2="90.3" stroke="#808080" stroke-width="1"/>
<line x1="315.3" y1="153.18" x2="515.3" y2="153.18" stroke="#e4e4e4" stroke-width="0.8"/>
<line x1="315.3" y1="169.75" x2="515.3" y2="169.75" stroke="#e4e4e4" stroke-width="0.8"/>
<line x1="315.3" y1="186.32" x2="515.3" y2="186.32" stroke="#e4e4e4" stroke-width="0.8"/>
<line x1="315.3" y1="136.6" x2="515.3" y2="136.6" stroke="#cfcfcf" stroke-width="1.3"/>
<line x1="515.3" y1="136.6" x2="515.3" y2="202.9" stroke="#cfcfcf" stroke-width="1.3"/>
<line x1="315.3" y1="203.20000000000002" x2="515.3" y2="203.20000000000002" stroke="#6f9aa6" stroke-width="1.4"/>
<polyline points="315.3,153.0 382.0,157.5 448.6,170.7 515.3,174.0" fill="none" stroke="#74e2e0" stroke-width="1.3" stroke-opacity="0.75" stroke-linejoin="round"/>
<rect x="314.40" y="152.10" width="1.8" height="1.8" fill="#70d8d8" opacity="0.6"/>
<rect x="381.07" y="156.60" width="1.8" height="1.8" fill="#70d8d8" opacity="0.6"/>
<rect x="447.73" y="169.80" width="1.8" height="1.8" fill="#70d8d8" opacity="0.6"/>
<rect x="514.40" y="173.10" width="1.8" height="1.8" fill="#70d8d8" opacity="0.6"/>
<polyline points="315.3,170.5 382.0,171.0 448.6,202.4 515.3,181.7" fill="none" stroke="#74e2e0" stroke-width="1.3" stroke-opacity="0.75" stroke-linejoin="round"/>
<rect x="314.40" y="169.60" width="1.8" height="1.8" fill="#70d8d8" opacity="0.6"/>
<rect x="381.07" y="170.10" width="1.8" height="1.8" fill="#70d8d8" opacity="0.6"/>
<rect x="447.73" y="201.50" width="1.8" height="1.8" fill="#70d8d8" opacity="0.6"/>
<rect x="514.40" y="180.80" width="1.8" height="1.8" fill="#70d8d8" opacity="0.6"/>
<polyline points="315.3,158.0 382.0,173.6 448.6,202.4 515.3,188.3" fill="none" stroke="#74e2e0" stroke-width="1.3" stroke-opacity="0.75" stroke-linejoin="round"/>
<rect x="314.40" y="157.10" width="1.8" height="1.8" fill="#70d8d8" opacity="0.6"/>
<rect x="381.07" y="172.70" width="1.8" height="1.8" fill="#70d8d8" opacity="0.6"/>
<rect x="447.73" y="201.50" width="1.8" height="1.8" fill="#70d8d8" opacity="0.6"/>
<rect x="514.40" y="187.40" width="1.8" height="1.8" fill="#70d8d8" opacity="0.6"/>
<polyline points="315.3,185.7 382.0,182.5 448.6,202.4 515.3,196.1" fill="none" stroke="#74e2e0" stroke-width="1.3" stroke-opacity="0.75" stroke-linejoin="round"/>
<rect x="314.40" y="184.80" width="1.8" height="1.8" fill="#70d8d8" opacity="0.6"/>
<rect x="381.07" y="181.60" width="1.8" height="1.8" fill="#70d8d8" opacity="0.6"/>
<rect x="447.73" y="201.50" width="1.8" height="1.8" fill="#70d8d8" opacity="0.6"/>
<rect x="514.40" y="195.20" width="1.8" height="1.8" fill="#70d8d8" opacity="0.6"/>
<polyline points="315.3,194.9 382.0,202.4 448.6,202.4 515.3,202.4" fill="none" stroke="#74e2e0" stroke-width="1.3" stroke-opacity="0.75" stroke-linejoin="round"/>
<rect x="314.00" y="193.60" width="2.6" height="2.6" fill="#4a88b8" opacity="0.8"/>
<rect x="381.07" y="201.50" width="1.8" height="1.8" fill="#70d8d8" opacity="0.6"/>
<rect x="447.73" y="201.50" width="1.8" height="1.8" fill="#70d8d8" opacity="0.6"/>
<rect x="514.40" y="201.50" width="1.8" height="1.8" fill="#70d8d8" opacity="0.6"/>
<polyline points="315.3,202.4 382.0,202.4 448.6,202.4 515.3,202.4" fill="none" stroke="#74e2e0" stroke-width="1.3" stroke-opacity="0.75" stroke-linejoin="round"/>
<rect x="314.40" y="201.50" width="1.8" height="1.8" fill="#70d8d8" opacity="0.6"/>
<rect x="381.07" y="201.50" width="1.8" height="1.8" fill="#70d8d8" opacity="0.6"/>
<rect x="447.73" y="201.50" width="1.8" height="1.8" fill="#70d8d8" opacity="0.6"/>
<rect x="514.40" y="201.50" width="1.8" height="1.8" fill="#70d8d8" opacity="0.6"/>
<polyline points="315.3,146.6 382.0,149.5 448.6,147.5 515.3,148.6" fill="none" stroke="#ec6e7a" stroke-width="1.3" stroke-opacity="0.8" stroke-linejoin="round"/>
<rect x="314.00" y="145.30" width="2.6" height="2.6" fill="#b8303e" opacity="0.8"/>
<rect x="380.67" y="148.20" width="2.6" height="2.6" fill="#b8303e" opacity="0.8"/>
<rect x="447.33" y="146.20" width="2.6" height="2.6" fill="#b8303e" opacity="0.8"/>
<rect x="514.00" y="147.30" width="2.6" height="2.6" fill="#b8303e" opacity="0.8"/>
<polyline points="315.3,149.8 382.0,153.2 448.6,155.9 515.3,151.4" fill="none" stroke="#ec6e7a" stroke-width="1.3" stroke-opacity="0.8" stroke-linejoin="round"/>
<rect x="314.00" y="148.50" width="2.6" height="2.6" fill="#b8303e" opacity="0.8"/>
<rect x="380.67" y="151.90" width="2.6" height="2.6" fill="#b8303e" opacity="0.8"/>
<rect x="447.33" y="154.60" width="2.6" height="2.6" fill="#b8303e" opacity="0.8"/>
<rect x="514.00" y="150.10" width="2.6" height="2.6" fill="#b8303e" opacity="0.8"/>
<polyline points="315.3,157.3 382.0,162.5 448.6,166.2 515.3,168.5" fill="none" stroke="#a89098" stroke-width="1.4" stroke-opacity="0.85" stroke-linejoin="round"/>
<rect x="314.00" y="156.00" width="2.6" height="2.6" fill="#806070" opacity="0.8"/>
<rect x="380.67" y="161.20" width="2.6" height="2.6" fill="#806070" opacity="0.8"/>
<rect x="447.33" y="164.90" width="2.6" height="2.6" fill="#806070" opacity="0.8"/>
<rect x="514.00" y="167.20" width="2.6" height="2.6" fill="#806070" opacity="0.8"/>
<polyline points="315.3,161.4 382.0,165.0 448.6,162.9 515.3,160.7" fill="none" stroke="#ec6e7a" stroke-width="1.3" stroke-opacity="0.8" stroke-linejoin="round"/>
<rect x="314.00" y="160.10" width="2.6" height="2.6" fill="#b8303e" opacity="0.8"/>
<rect x="380.67" y="163.70" width="2.6" height="2.6" fill="#b8303e" opacity="0.8"/>
<rect x="447.33" y="161.60" width="2.6" height="2.6" fill="#b8303e" opacity="0.8"/>
<rect x="514.00" y="159.40" width="2.6" height="2.6" fill="#b8303e" opacity="0.8"/>
<polyline points="315.3,166.0 382.0,161.7 448.6,151.4 515.3,165.1" fill="none" stroke="#ec6e7a" stroke-width="1.3" stroke-opacity="0.8" stroke-linejoin="round"/>
<rect x="314.00" y="164.70" width="2.6" height="2.6" fill="#b8303e" opacity="0.8"/>
<rect x="380.67" y="160.40" width="2.6" height="2.6" fill="#b8303e" opacity="0.8"/>
<rect x="447.33" y="150.10" width="2.6" height="2.6" fill="#b8303e" opacity="0.8"/>
<rect x="514.00" y="163.80" width="2.6" height="2.6" fill="#b8303e" opacity="0.8"/>
<polyline points="315.3,179.0 382.0,156.0 448.6,147.5 515.3,153.0" fill="none" stroke="#ec6e7a" stroke-width="1.3" stroke-opacity="0.8" stroke-linejoin="round"/>
<rect x="314.00" y="177.70" width="2.6" height="2.6" fill="#b8303e" opacity="0.8"/>
<rect x="380.67" y="154.70" width="2.6" height="2.6" fill="#b8303e" opacity="0.8"/>
<rect x="447.33" y="146.20" width="2.6" height="2.6" fill="#b8303e" opacity="0.8"/>
<rect x="514.00" y="151.70" width="2.6" height="2.6" fill="#b8303e" opacity="0.8"/>
<polyline points="315.3,181.0 382.0,190.4 448.6,156.3 515.3,151.4" fill="none" stroke="#ec6e7a" stroke-width="1.3" stroke-opacity="0.8" stroke-linejoin="round"/>
<rect x="314.00" y="179.70" width="2.6" height="2.6" fill="#b8303e" opacity="0.8"/>
<rect x="380.67" y="189.10" width="2.6" height="2.6" fill="#b8303e" opacity="0.8"/>
<rect x="447.33" y="155.00" width="2.6" height="2.6" fill="#b8303e" opacity="0.8"/>
<rect x="514.00" y="150.10" width="2.6" height="2.6" fill="#b8303e" opacity="0.8"/>
<line x1="315.3" y1="178.3" x2="515.3" y2="178.3" stroke="#585c5e" stroke-width="1.8"/>
<line x1="315.3" y1="136.6" x2="315.3" y2="202.9" stroke="#999d9d" stroke-width="1.4"/>
<line x1="313.5" y1="136.60" x2="315.3" y2="136.60" stroke="#808080" stroke-width="1"/>
<line x1="313.5" y1="153.18" x2="315.3" y2="153.18" stroke="#808080" stroke-width="1"/>
<line x1="313.5" y1="169.75" x2="315.3" y2="169.75" stroke="#808080" stroke-width="1"/>
<line x1="313.5" y1="186.32" x2="315.3" y2="186.32" stroke="#808080" stroke-width="1"/>
<line x1="313.5" y1="202.90" x2="315.3" y2="202.90" stroke="#808080" stroke-width="1"/>
<line x1="315.3" y1="202.9" x2="315.3" y2="204.70000000000002" stroke="#808080" stroke-width="1"/>
<line x1="348.6" y1="202.9" x2="348.6" y2="204.70000000000002" stroke="#808080" stroke-width="1"/>
<line x1="382.0" y1="202.9" x2="382.0" y2="204.70000000000002" stroke="#808080" stroke-width="1"/>
<line x1="415.3" y1="202.9" x2="415.3" y2="204.70000000000002" stroke="#808080" stroke-width="1"/>
<line x1="448.6" y1="202.9" x2="448.6" y2="204.70000000000002" stroke="#808080" stroke-width="1"/>
<line x1="482.0" y1="202.9" x2="482.0" y2="204.70000000000002" stroke="#808080" stroke-width="1"/>
<line x1="515.3" y1="202.9" x2="515.3" y2="204.70000000000002" stroke="#808080" stroke-width="1"/>
<line x1="315.2" y1="268.77" x2="515.3" y2="268.77" stroke="#e4e4e4" stroke-width="0.8"/>
<line x1="315.2" y1="285.35" x2="515.3" y2="285.35" stroke="#e4e4e4" stroke-width="0.8"/>
<line x1="315.2" y1="301.93" x2="515.3" y2="301.93" stroke="#e4e4e4" stroke-width="0.8"/>
<line x1="315.2" y1="252.2" x2="515.3" y2="252.2" stroke="#cfcfcf" stroke-width="1.3"/>
<line x1="515.3" y1="252.2" x2="515.3" y2="318.5" stroke="#cfcfcf" stroke-width="1.3"/>
<line x1="315.2" y1="318.8" x2="515.3" y2="318.8" stroke="#6f9aa6" stroke-width="1.4"/>
<polyline points="315.2,277.2 381.9,267.8 448.6,269.0 515.3,276.7" fill="none" stroke="#74e2e0" stroke-width="1.3" stroke-opacity="0.75" stroke-linejoin="round"/>
<rect x="314.30" y="276.30" width="1.8" height="1.8" fill="#70d8d8" opacity="0.6"/>
<rect x="381.00" y="266.90" width="1.8" height="1.8" fill="#70d8d8" opacity="0.6"/>
<rect x="447.70" y="268.10" width="1.8" height="1.8" fill="#70d8d8" opacity="0.6"/>
<rect x="514.40" y="275.80" width="1.8" height="1.8" fill="#70d8d8" opacity="0.6"/>
<polyline points="315.2,294.4 381.9,287.3 448.6,288.9 515.3,307.7" fill="none" stroke="#74e2e0" stroke-width="1.3" stroke-opacity="0.75" stroke-linejoin="round"/>
<rect x="314.30" y="293.50" width="1.8" height="1.8" fill="#70d8d8" opacity="0.6"/>
<rect x="381.00" y="286.40" width="1.8" height="1.8" fill="#70d8d8" opacity="0.6"/>
<rect x="447.70" y="288.00" width="1.8" height="1.8" fill="#70d8d8" opacity="0.6"/>
<rect x="514.40" y="306.80" width="1.8" height="1.8" fill="#70d8d8" opacity="0.6"/>
<polyline points="315.2,318.0 381.9,294.0 448.6,294.8 515.3,301.0" fill="none" stroke="#74e2e0" stroke-width="1.3" stroke-opacity="0.75" stroke-linejoin="round"/>
<rect x="314.30" y="317.10" width="1.8" height="1.8" fill="#70d8d8" opacity="0.6"/>
<rect x="381.00" y="293.10" width="1.8" height="1.8" fill="#70d8d8" opacity="0.6"/>
<rect x="447.70" y="293.90" width="1.8" height="1.8" fill="#70d8d8" opacity="0.6"/>
<rect x="514.40" y="300.10" width="1.8" height="1.8" fill="#70d8d8" opacity="0.6"/>
<polyline points="315.2,318.0 381.9,318.0 448.6,318.0 515.3,318.0" fill="none" stroke="#74e2e0" stroke-width="1.3" stroke-opacity="0.75" stroke-linejoin="round"/>
<rect x="314.30" y="317.10" width="1.8" height="1.8" fill="#70d8d8" opacity="0.6"/>
<rect x="381.00" y="317.10" width="1.8" height="1.8" fill="#70d8d8" opacity="0.6"/>
<rect x="447.70" y="317.10" width="1.8" height="1.8" fill="#70d8d8" opacity="0.6"/>
<rect x="514.40" y="317.10" width="1.8" height="1.8" fill="#70d8d8" opacity="0.6"/>
<polyline points="315.2,318.0 381.9,318.0 448.6,294.8 515.3,294.4" fill="none" stroke="#74e2e0" stroke-width="1.3" stroke-opacity="0.75" stroke-linejoin="round"/>
<rect x="314.30" y="317.10" width="1.8" height="1.8" fill="#70d8d8" opacity="0.6"/>
<rect x="381.00" y="317.10" width="1.8" height="1.8" fill="#70d8d8" opacity="0.6"/>
<rect x="447.70" y="293.90" width="1.8" height="1.8" fill="#70d8d8" opacity="0.6"/>
<rect x="514.40" y="293.50" width="1.8" height="1.8" fill="#70d8d8" opacity="0.6"/>
<polyline points="315.2,265.7 381.9,258.0 448.6,257.9 515.3,259.0" fill="none" stroke="#ec6e7a" stroke-width="1.3" stroke-opacity="0.8" stroke-linejoin="round"/>
<rect x="313.90" y="264.40" width="2.6" height="2.6" fill="#b8303e" opacity="0.8"/>
<rect x="380.60" y="256.70" width="2.6" height="2.6" fill="#b8303e" opacity="0.8"/>
<rect x="447.30" y="256.60" width="2.6" height="2.6" fill="#b8303e" opacity="0.8"/>
<rect x="514.00" y="257.70" width="2.6" height="2.6" fill="#b8303e" opacity="0.8"/>
<polyline points="315.2,270.3 381.9,262.6 448.6,264.6 515.3,262.4" fill="none" stroke="#ec6e7a" stroke-width="1.3" stroke-opacity="0.8" stroke-linejoin="round"/>
<rect x="313.90" y="269.00" width="2.6" height="2.6" fill="#b8303e" opacity="0.8"/>
<rect x="380.60" y="261.30" width="2.6" height="2.6" fill="#b8303e" opacity="0.8"/>
<rect x="447.30" y="263.30" width="2.6" height="2.6" fill="#b8303e" opacity="0.8"/>
<rect x="514.00" y="261.10" width="2.6" height="2.6" fill="#b8303e" opacity="0.8"/>
<polyline points="315.2,274.5 381.9,274.1 448.6,274.1 515.3,273.4" fill="none" stroke="#ec6e7a" stroke-width="1.3" stroke-opacity="0.8" stroke-linejoin="round"/>
<rect x="313.90" y="273.20" width="2.6" height="2.6" fill="#b8303e" opacity="0.8"/>
<rect x="380.60" y="272.80" width="2.6" height="2.6" fill="#b8303e" opacity="0.8"/>
<rect x="447.30" y="272.80" width="2.6" height="2.6" fill="#b8303e" opacity="0.8"/>
<rect x="514.00" y="272.10" width="2.6" height="2.6" fill="#b8303e" opacity="0.8"/>
<polyline points="315.2,283.1 381.9,260.0 448.6,272.3 515.3,276.7" fill="none" stroke="#ec6e7a" stroke-width="1.3" stroke-opacity="0.8" stroke-linejoin="round"/>
<rect x="313.90" y="281.80" width="2.6" height="2.6" fill="#b8303e" opacity="0.8"/>
<rect x="380.60" y="258.70" width="2.6" height="2.6" fill="#b8303e" opacity="0.8"/>
<rect x="447.30" y="271.00" width="2.6" height="2.6" fill="#b8303e" opacity="0.8"/>
<rect x="514.00" y="275.40" width="2.6" height="2.6" fill="#b8303e" opacity="0.8"/>
<polyline points="315.2,285.6 381.9,271.0 448.6,261.3 515.3,267.4" fill="none" stroke="#ec6e7a" stroke-width="1.3" stroke-opacity="0.8" stroke-linejoin="round"/>
<rect x="313.90" y="284.30" width="2.6" height="2.6" fill="#b8303e" opacity="0.8"/>
<rect x="380.60" y="269.70" width="2.6" height="2.6" fill="#b8303e" opacity="0.8"/>
<rect x="447.30" y="260.00" width="2.6" height="2.6" fill="#b8303e" opacity="0.8"/>
<rect x="514.00" y="266.10" width="2.6" height="2.6" fill="#b8303e" opacity="0.8"/>
<polyline points="315.2,288.7 381.9,280.4 448.6,269.0 515.3,269.0" fill="none" stroke="#ec6e7a" stroke-width="1.3" stroke-opacity="0.8" stroke-linejoin="round"/>
<rect x="313.90" y="287.40" width="2.6" height="2.6" fill="#b8303e" opacity="0.8"/>
<rect x="380.60" y="279.10" width="2.6" height="2.6" fill="#b8303e" opacity="0.8"/>
<rect x="447.30" y="267.70" width="2.6" height="2.6" fill="#b8303e" opacity="0.8"/>
<rect x="514.00" y="267.70" width="2.6" height="2.6" fill="#b8303e" opacity="0.8"/>
<polyline points="315.2,283.0 381.9,287.3 448.6,286.7 515.3,288.9" fill="none" stroke="#ec6e7a" stroke-width="1.3" stroke-opacity="0.8" stroke-linejoin="round"/>
<rect x="313.90" y="281.70" width="2.6" height="2.6" fill="#b8303e" opacity="0.8"/>
<rect x="380.60" y="286.00" width="2.6" height="2.6" fill="#b8303e" opacity="0.8"/>
<rect x="447.30" y="285.40" width="2.6" height="2.6" fill="#b8303e" opacity="0.8"/>
<rect x="514.00" y="287.60" width="2.6" height="2.6" fill="#b8303e" opacity="0.8"/>
<polyline points="315.2,269.6 381.9,267.5 448.6,267.5 515.3,267.4" fill="none" stroke="#a89098" stroke-width="1.4" stroke-opacity="0.85" stroke-linejoin="round"/>
<rect x="313.90" y="268.30" width="2.6" height="2.6" fill="#806070" opacity="0.8"/>
<rect x="380.60" y="266.20" width="2.6" height="2.6" fill="#806070" opacity="0.8"/>
<rect x="447.30" y="266.20" width="2.6" height="2.6" fill="#806070" opacity="0.8"/>
<rect x="514.00" y="266.10" width="2.6" height="2.6" fill="#806070" opacity="0.8"/>
<line x1="315.2" y1="294.4" x2="515.3" y2="294.4" stroke="#585c5e" stroke-width="1.8"/>
<line x1="315.2" y1="252.2" x2="315.2" y2="318.5" stroke="#999d9d" stroke-width="1.4"/>
<line x1="313.4" y1="252.20" x2="315.2" y2="252.20" stroke="#808080" stroke-width="1"/>
<line x1="313.4" y1="268.77" x2="315.2" y2="268.77" stroke="#808080" stroke-width="1"/>
<line x1="313.4" y1="285.35" x2="315.2" y2="285.35" stroke="#808080" stroke-width="1"/>
<line x1="313.4" y1="301.93" x2="315.2" y2="301.93" stroke="#808080" stroke-width="1"/>
<line x1="313.4" y1="318.50" x2="315.2" y2="318.50" stroke="#808080" stroke-width="1"/>
<line x1="315.2" y1="318.5" x2="315.2" y2="320.3" stroke="#808080" stroke-width="1"/>
<line x1="348.5" y1="318.5" x2="348.5" y2="320.3" stroke="#808080" stroke-width="1"/>
<line x1="381.9" y1="318.5" x2="381.9" y2="320.3" stroke="#808080" stroke-width="1"/>
<line x1="415.2" y1="318.5" x2="415.2" y2="320.3" stroke="#808080" stroke-width="1"/>
<line x1="448.6" y1="318.5" x2="448.6" y2="320.3" stroke="#808080" stroke-width="1"/>
<line x1="481.9" y1="318.5" x2="481.9" y2="320.3" stroke="#808080" stroke-width="1"/>
<line x1="515.3" y1="318.5" x2="515.3" y2="320.3" stroke="#808080" stroke-width="1"/>
<g filter="url(#bt)">
<text x="43.4" y="24.20" text-anchor="end" class="t">100.00</text>
<text x="43.4" y="23.40" text-anchor="end" class="t">100.00</text>
<text x="43.4" y="40.67" text-anchor="end" class="t">10.00</text>
<text x="43.4" y="39.88" text-anchor="end" class="t">10.00</text>
<text x="43.4" y="57.15" text-anchor="end" class="t">1.00</text>
<text x="43.4" y="56.35" text-anchor="end" class="t">1.00</text>
<text x="43.4" y="73.62" text-anchor="end" class="t">0.10</text>
<text x="43.4" y="72.83" text-anchor="end" class="t">0.10</text>
<text x="43.4" y="90.10" text-anchor="end" class="t">0.01</text>
<text x="43.4" y="89.30" text-anchor="end" class="t">0.01</text>
<text x="47.8" y="99.0" text-anchor="middle" class="t">4</text>
<text x="47.8" y="98.2" text-anchor="middle" class="t">4</text>
<text x="81.4" y="99.0" text-anchor="middle" class="t">6</text>
<text x="81.4" y="98.2" text-anchor="middle" class="t">6</text>
<text x="115.0" y="99.0" text-anchor="middle" class="t">8</text>
<text x="115.0" y="98.2" text-anchor="middle" class="t">8</text>
<text x="148.6" y="99.0" text-anchor="middle" class="t">10</text>
<text x="148.6" y="98.2" text-anchor="middle" class="t">10</text>
<text x="182.2" y="99.0" text-anchor="middle" class="t">12</text>
<text x="182.2" y="98.2" text-anchor="middle" class="t">12</text>
<text x="215.8" y="99.0" text-anchor="middle" class="t">14</text>
<text x="215.8" y="98.2" text-anchor="middle" class="t">14</text>
<text x="249.4" y="99.0" text-anchor="middle" class="t">16</text>
<text x="249.4" y="98.2" text-anchor="middle" class="t">16</text>
<text x="148.6" y="110.3" text-anchor="middle" class="tw">Weeks after tranplant</text>
<text x="148.6" y="109.5" text-anchor="middle" class="tw">Weeks after tranplant</text>
<text transform="translate(22.6,54.8) rotate(-90) scale(1,1.1)" text-anchor="middle" class="tr" style="font-size:6.6px">&#37; of donor type myloid cells</text>
<text x="43.0" y="139.40" text-anchor="end" class="t">100.00</text>
<text x="43.0" y="138.60" text-anchor="end" class="t">100.00</text>
<text x="43.0" y="155.95" text-anchor="end" class="t">10.00</text>
<text x="43.0" y="155.15" text-anchor="end" class="t">10.00</text>
<text x="43.0" y="172.50" text-anchor="end" class="t">1.00</text>
<text x="43.0" y="171.70" text-anchor="end" class="t">1.00</text>
<text x="43.0" y="189.05" text-anchor="end" class="t">0.10</text>
<text x="43.0" y="188.25" text-anchor="end" class="t">0.10</text>
<text x="43.0" y="205.60" text-anchor="end" class="t">0.01</text>
<text x="43.0" y="204.80" text-anchor="end" class="t">0.01</text>
<text x="47.4" y="214.5" text-anchor="middle" class="t">4</text>
<text x="47.4" y="213.7" text-anchor="middle" class="t">4</text>
<text x="81.0" y="214.5" text-anchor="middle" class="t">6</text>
<text x="81.0" y="213.7" text-anchor="middle" class="t">6</text>
<text x="114.7" y="214.5" text-anchor="middle" class="t">8</text>
<text x="114.7" y="213.7" text-anchor="middle" class="t">8</text>
<text x="148.3" y="214.5" text-anchor="middle" class="t">10</text>
<text x="148.3" y="213.7" text-anchor="middle" class="t">10</text>
<text x="182.0" y="214.5" text-anchor="middle" class="t">12</text>
<text x="182.0" y="213.7" text-anchor="middle" class="t">12</text>
<text x="215.7" y="214.5" text-anchor="middle" class="t">14</text>
<text x="215.7" y="213.7" text-anchor="middle" class="t">14</text>
<text x="249.3" y="214.5" text-anchor="middle" class="t">16</text>
<text x="249.3" y="213.7" text-anchor="middle" class="t">16</text>
<text x="148.3" y="225.8" text-anchor="middle" class="tw">Weeks after tranplant</text>
<text x="148.3" y="225.0" text-anchor="middle" class="tw">Weeks after tranplant</text>
<text transform="translate(21.8,170.2) rotate(-90) scale(1,1.1)" text-anchor="middle" class="tr" style="font-size:6.7px">&#37; of donor type T cells</text>
<text x="45.8" y="254.20" text-anchor="end" class="t">100.00</text>
<text x="45.8" y="253.40" text-anchor="end" class="t">100.00</text>
<text x="45.8" y="270.93" text-anchor="end" class="t">10.00</text>
<text x="45.8" y="270.12" text-anchor="end" class="t">10.00</text>
<text x="45.8" y="287.65" text-anchor="end" class="t">1.00</text>
<text x="45.8" y="286.85" text-anchor="end" class="t">1.00</text>
<text x="45.8" y="304.38" text-anchor="end" class="t">0.10</text>
<text x="45.8" y="303.57" text-anchor="end" class="t">0.10</text>
<text x="45.8" y="321.10" text-anchor="end" class="t">0.01</text>
<text x="45.8" y="320.30" text-anchor="end" class="t">0.01</text>
<text x="50.2" y="330.0" text-anchor="middle" class="t">4</text>
<text x="50.2" y="329.2" text-anchor="middle" class="t">4</text>
<text x="83.4" y="330.0" text-anchor="middle" class="t">6</text>
<text x="83.4" y="329.2" text-anchor="middle" class="t">6</text>
<text x="116.6" y="330.0" text-anchor="middle" class="t">8</text>
<text x="116.6" y="329.2" text-anchor="middle" class="t">8</text>
<text x="149.8" y="330.0" text-anchor="middle" class="t">10</text>
<text x="149.8" y="329.2" text-anchor="middle" class="t">10</text>
<text x="183.0" y="330.0" text-anchor="middle" class="t">12</text>
<text x="183.0" y="329.2" text-anchor="middle" class="t">12</text>
<text x="216.2" y="330.0" text-anchor="middle" class="t">14</text>
<text x="216.2" y="329.2" text-anchor="middle" class="t">14</text>
<text x="249.4" y="330.0" text-anchor="middle" class="t">16</text>
<text x="249.4" y="329.2" text-anchor="middle" class="t">16</text>
<text x="149.8" y="341.3" text-anchor="middle" class="tw">Weeks after tranplant</text>
<text x="149.8" y="340.5" text-anchor="middle" class="tw">Weeks after tranplant</text>
<text transform="translate(24.4,285.4) rotate(-90) scale(1,1.1)" text-anchor="middle" class="tr" style="font-size:6.7px">&#37; of donor type B cells</text>
<text x="311.2" y="25.30" text-anchor="end" class="t">100.00</text>
<text x="311.2" y="24.50" text-anchor="end" class="t">100.00</text>
<text x="311.2" y="41.67" text-anchor="end" class="t">10.00</text>
<text x="311.2" y="40.88" text-anchor="end" class="t">10.00</text>
<text x="311.2" y="58.05" text-anchor="end" class="t">1.00</text>
<text x="311.2" y="57.25" text-anchor="end" class="t">1.00</text>
<text x="311.2" y="74.42" text-anchor="end" class="t">0.10</text>
<text x="311.2" y="73.62" text-anchor="end" class="t">0.10</text>
<text x="311.2" y="90.80" text-anchor="end" class="t">0.01</text>
<text x="311.2" y="90.00" text-anchor="end" class="t">0.01</text>
<text x="315.6" y="99.7" text-anchor="middle" class="t">4</text>
<text x="315.6" y="98.9" text-anchor="middle" class="t">4</text>
<text x="348.8" y="99.7" text-anchor="middle" class="t">6</text>
<text x="348.8" y="98.9" text-anchor="middle" class="t">6</text>
<text x="382.1" y="99.7" text-anchor="middle" class="t">8</text>
<text x="382.1" y="98.9" text-anchor="middle" class="t">8</text>
<text x="415.3" y="99.7" text-anchor="middle" class="t">10</text>
<text x="415.3" y="98.9" text-anchor="middle" class="t">10</text>
<text x="448.5" y="99.7" text-anchor="middle" class="t">12</text>
<text x="448.5" y="98.9" text-anchor="middle" class="t">12</text>
<text x="481.8" y="99.7" text-anchor="middle" class="t">14</text>
<text x="481.8" y="98.9" text-anchor="middle" class="t">14</text>
<text x="515.0" y="99.7" text-anchor="middle" class="t">16</text>
<text x="515.0" y="98.9" text-anchor="middle" class="t">16</text>
<text x="415.3" y="111.0" text-anchor="middle" class="tw">Weeks after tranplant</text>
<text x="415.3" y="110.2" text-anchor="middle" class="tw">Weeks after tranplant</text>
<text transform="translate(290.0,55.8) rotate(-90) scale(1,1.1)" text-anchor="middle" class="tr" style="font-size:6.3px">&#37; of donor type myloid cells</text>
<text x="310.9" y="138.90" text-anchor="end" class="t">100.00</text>
<text x="310.9" y="138.10" text-anchor="end" class="t">100.00</text>
<text x="310.9" y="155.48" text-anchor="end" class="t">10.00</text>
<text x="310.9" y="154.68" text-anchor="end" class="t">10.00</text>
<text x="310.9" y="172.05" text-anchor="end" class="t">1.00</text>
<text x="310.9" y="171.25" text-anchor="end" class="t">1.00</text>
<text x="310.9" y="188.62" text-anchor="end" class="t">0.10</text>
<text x="310.9" y="187.82" text-anchor="end" class="t">0.10</text>
<text x="310.9" y="205.20" text-anchor="end" class="t">0.01</text>
<text x="310.9" y="204.40" text-anchor="end" class="t">0.01</text>
<text x="315.3" y="214.1" text-anchor="middle" class="t">4</text>
<text x="315.3" y="213.3" text-anchor="middle" class="t">4</text>
<text x="348.6" y="214.1" text-anchor="middle" class="t">6</text>
<text x="348.6" y="213.3" text-anchor="middle" class="t">6</text>
<text x="382.0" y="214.1" text-anchor="middle" class="t">8</text>
<text x="382.0" y="213.3" text-anchor="middle" class="t">8</text>
<text x="415.3" y="214.1" text-anchor="middle" class="t">10</text>
<text x="415.3" y="213.3" text-anchor="middle" class="t">10</text>
<text x="448.6" y="214.1" text-anchor="middle" class="t">12</text>
<text x="448.6" y="213.3" text-anchor="middle" class="t">12</text>
<text x="482.0" y="214.1" text-anchor="middle" class="t">14</text>
<text x="482.0" y="213.3" text-anchor="middle" class="t">14</text>
<text x="515.3" y="214.1" text-anchor="middle" class="t">16</text>
<text x="515.3" y="213.3" text-anchor="middle" class="t">16</text>
<text x="415.3" y="225.4" text-anchor="middle" class="tw">Weeks after tranplant</text>
<text x="415.3" y="224.6" text-anchor="middle" class="tw">Weeks after tranplant</text>
<text transform="translate(289.8,169.8) rotate(-90) scale(1,1.1)" text-anchor="middle" class="tr" style="font-size:6.6px">&#37; of donor type T cells</text>
<text x="310.8" y="254.50" text-anchor="end" class="t">100.00</text>
<text x="310.8" y="253.70" text-anchor="end" class="t">100.00</text>
<text x="310.8" y="271.07" text-anchor="end" class="t">10.00</text>
<text x="310.8" y="270.27" text-anchor="end" class="t">10.00</text>
<text x="310.8" y="287.65" text-anchor="end" class="t">1.00</text>
<text x="310.8" y="286.85" text-anchor="end" class="t">1.00</text>
<text x="310.8" y="304.23" text-anchor="end" class="t">0.10</text>
<text x="310.8" y="303.43" text-anchor="end" class="t">0.10</text>
<text x="310.8" y="320.80" text-anchor="end" class="t">0.01</text>
<text x="310.8" y="320.00" text-anchor="end" class="t">0.01</text>
<text x="315.2" y="329.7" text-anchor="middle" class="t">4</text>
<text x="315.2" y="328.9" text-anchor="middle" class="t">4</text>
<text x="348.5" y="329.7" text-anchor="middle" class="t">6</text>
<text x="348.5" y="328.9" text-anchor="middle" class="t">6</text>
<text x="381.9" y="329.7" text-anchor="middle" class="t">8</text>
<text x="381.9" y="328.9" text-anchor="middle" class="t">8</text>
<text x="415.2" y="329.7" text-anchor="middle" class="t">10</text>
<text x="415.2" y="328.9" text-anchor="middle" class="t">10</text>
<text x="448.6" y="329.7" text-anchor="middle" class="t">12</text>
<text x="448.6" y="328.9" text-anchor="middle" class="t">12</text>
<text x="481.9" y="329.7" text-anchor="middle" class="t">14</text>
<text x="481.9" y="328.9" text-anchor="middle" class="t">14</text>
<text x="515.3" y="329.7" text-anchor="middle" class="t">16</text>
<text x="515.3" y="328.9" text-anchor="middle" class="t">16</text>
<text x="415.2" y="341.0" text-anchor="middle" class="tw">Weeks after tranplant</text>
<text x="415.2" y="340.2" text-anchor="middle" class="tw">Weeks after tranplant</text>
<text transform="translate(289.8,285.4) rotate(-90) scale(1,1.1)" text-anchor="middle" class="tr" style="font-size:6.6px">&#37; of donor type B cells</text>
</g>
</g>
</svg>
</body></html>
